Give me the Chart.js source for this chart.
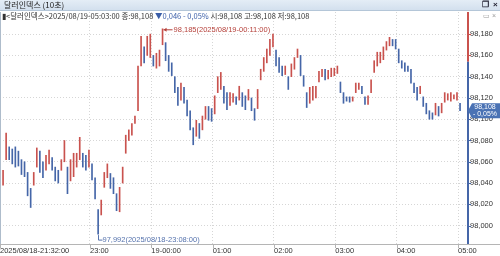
<!DOCTYPE html>
<html>
<head>
<meta charset="utf-8">
<script src="https://cdn.jsdelivr.net/npm/chart.js@4.4.1/dist/chart.umd.min.js"></script>
<style>
  html, body { margin: 0; padding: 0; background: #fff; }
  #wrap { position: relative; width: 500px; height: 256px; overflow: hidden; }
  #titlebar {
    position: absolute; left: 0; top: 0; width: 500px; height: 10px;
    background: linear-gradient(#e4edf6, #d3e0ee); border-bottom: 1px solid #b4c6d8;
    font: 8px "Noto Sans CJK KR", sans-serif; line-height: 10px; color: #222; z-index: 2;
  }
  #titlebar .t { position: absolute; left: 4px; top: 0; }
  #titlebar .ic { position: absolute; top: 0; font: bold 8px "Liberation Sans", sans-serif; color: #223; }
  #info {
    position: absolute; left: 2px; top: 11px; height: 9px; white-space: nowrap;
    font: 7.5px "Liberation Sans Narrow", "Noto Sans CJK KR", sans-serif; line-height: 9px; color: #333; z-index: 2;
  }
  #info .dn { color: #3b5ea8; }
  #mini { position: absolute; right: 4px; top: 12px; font: 7px "Liberation Sans", sans-serif; color: #999; z-index: 2; }
  canvas { position: absolute; left: 0; top: 0; }
</style>
</head>
<body>
<div id="wrap">
  <div id="titlebar"><span class="t">달러인덱스 (10초)</span><span class="ic" style="left:482px">❐</span><span class="ic" style="left:493px">×</span></div>
  <div id="info">▮&lt;달러인덱스&gt;2025/08/19-05:03:00 종:98,108 <span class="dn">▼0,046</span> <span class="dn">- 0,05%</span> 시:98,108 고:98,108 저:98,108</div>
  <div id="mini">▭ ×</div>
  <canvas id="chart" width="500" height="256"></canvas>
</div>
<script>
// 3분 단위 구간 (21:32부터)
const barMinutes = 3;
const lows = [
  98.028, 98.038, 98.062, 98.062, 98.058, 98.055, 98.056, 98.048, 98.046, 98.028,
  98.017, 98.038, 98.055, 98.050, 98.045, 98.052, 98.058, 98.052, 98.042, 98.040,
  98.052, 98.060, 98.030, 98.042, 98.046, 98.055, 98.062, 98.055, 98.052, 98.055,
  98.043, 98.025, 97.992, 98.010, 98.036, 98.045, 98.035, 98.030, 98.014, 98.013,
  98.040, 98.068, 98.080, 98.085, 98.096, 98.108, 98.150, 98.153, 98.160, 98.158,
  98.150, 98.148, 98.150, 98.170, 98.155, 98.145, 98.141, 98.125, 98.113, 98.118,
  98.115, 98.103, 98.090, 98.076, 98.084, 98.082, 98.090, 98.100, 98.099, 98.098,
  98.105, 98.125, 98.128, 98.115, 98.109, 98.113, 98.116, 98.114, 98.118, 98.112,
  98.109, 98.118, 98.108, 98.099, 98.110, 98.137, 98.145, 98.153, 98.160, 98.168,
  98.150, 98.144, 98.141, 98.142, 98.128, 98.140, 98.147, 98.158, 98.141, 98.131,
  98.111, 98.115, 98.118, 98.120, 98.135, 98.140, 98.137, 98.138, 98.140, 98.141,
  98.143, 98.125, 98.115, 98.117, 98.116, 98.117, 98.125, 98.128, 98.124, 98.114,
  98.114, 98.125, 98.144, 98.150, 98.153, 98.156, 98.165, 98.169, 98.169, 98.166,
  98.153, 98.148, 98.145, 98.145, 98.134, 98.125, 98.118, 98.124, 98.112, 98.105,
  98.100, 98.100, 98.104, 98.103, 98.106, 98.116, 98.118, 98.117, 98.119, 98.118,
  98.108
];
const highs = [
  98.040, 98.052, 98.087, 98.074, 98.072, 98.074, 98.070, 98.062, 98.060, 98.050,
  98.035, 98.050, 98.073, 98.070, 98.060, 98.066, 98.071, 98.064, 98.055, 98.052,
  98.062, 98.080, 98.055, 98.062, 98.068, 98.068, 98.083, 98.068, 98.066, 98.071,
  98.058, 98.045, 98.015, 98.024, 98.050, 98.058, 98.049, 98.045, 98.030, 98.036,
  98.055, 98.085, 98.090, 98.096, 98.103, 98.150, 98.178, 98.168, 98.178, 98.180,
  98.160, 98.162, 98.165, 98.185, 98.172, 98.160, 98.153, 98.140, 98.130, 98.134,
  98.130, 98.118, 98.108, 98.092, 98.099, 98.096, 98.103, 98.112, 98.112, 98.110,
  98.122, 98.140, 98.144, 98.131, 98.125, 98.125, 98.124, 98.121, 98.131, 98.125,
  98.122, 98.128, 98.120, 98.110, 98.128, 98.147, 98.158, 98.166, 98.175, 98.180,
  98.165, 98.158, 98.150, 98.150, 98.140, 98.152, 98.158, 98.166, 98.160, 98.141,
  98.125, 98.130, 98.131, 98.131, 98.145, 98.147, 98.147, 98.146, 98.148, 98.148,
  98.150, 98.135, 98.125, 98.121, 98.121, 98.121, 98.134, 98.134, 98.131, 98.121,
  98.122, 98.137, 98.155, 98.163, 98.163, 98.168, 98.173, 98.177, 98.175, 98.175,
  98.166, 98.155, 98.153, 98.150, 98.147, 98.134, 98.130, 98.131, 98.121, 98.115,
  98.108, 98.106, 98.115, 98.112, 98.115, 98.125, 98.124, 98.125, 98.123, 98.125,
  98.115
];
const yTicks = [98.000, 98.020, 98.040, 98.060, 98.080, 98.100, 98.120, 98.140, 98.160, 98.180];
const xTickMinutes = [0, 88, 148, 208, 268, 328, 388, 448];
const xTickLabels = ["2025/08/18-21:32:00", "23:00", "19-00:00", "01:00", "02:00", "03:00", "04:00", "05:00"];
const prevClose = 98.154;
const lastPrice = 98.108;
const lastChange = "- 0,05%";
const highMark = { idx: 53, value: 98.185, text: "98,185(2025/08/19-00:11:00)" };
const lowMark = { idx: 32, value: 97.992, text: "97,992(2025/08/18-23:08:00)" };

const RED = "#c9524e";
const BLUE = "#4566a8";
const FONT = '"Liberation Sans Narrow", "Liberation Sans", sans-serif';

const fmt = v => v.toFixed(3).replace(".", ",");

const points = lows.map((lo, i) => ({ x: i * barMinutes, y: [lo, highs[i]] }));
const colors = lows.map((lo, i) => {
  if (i === 0) return BLUE;
  const mid = (lo + highs[i]) / 2, prev = (lows[i - 1] + highs[i - 1]) / 2;
  return mid >= prev ? RED : BLUE;
});

const decor = {
  id: "decor",
  afterDraw(chart) {
    const ctx = chart.ctx, a = chart.chartArea, xs = chart.scales.x, ys = chart.scales.y;
    ctx.save();
    // 왼쪽 테두리, 아래 축선
    ctx.strokeStyle = "#aebccb"; ctx.lineWidth = 1;
    ctx.beginPath(); ctx.moveTo(0.5, a.top); ctx.lineTo(0.5, a.bottom); ctx.stroke();
    ctx.strokeStyle = "#b5b5b5";
    ctx.beginPath(); ctx.moveTo(0, a.bottom + 0.5); ctx.lineTo(500, a.bottom + 0.5); ctx.stroke();
    // x 눈금
    xTickMinutes.forEach(m => {
      const px = Math.round(xs.getPixelForValue(m)) + 0.5;
      ctx.beginPath(); ctx.moveTo(px, a.bottom); ctx.lineTo(px, a.bottom + 4); ctx.stroke();
    });
    // 오른쪽 축: 전일종가 위는 빨강, 아래는 파랑
    const yp = ys.getPixelForValue(prevClose);
    ctx.lineWidth = 2;
    ctx.strokeStyle = RED;
    ctx.beginPath(); ctx.moveTo(a.right + 1, a.top); ctx.lineTo(a.right + 1, yp); ctx.stroke();
    ctx.strokeStyle = BLUE;
    ctx.beginPath(); ctx.moveTo(a.right + 1, yp); ctx.lineTo(a.right + 1, a.bottom); ctx.stroke();
    ctx.lineWidth = 1;
    yTicks.forEach(v => {
      const py = Math.round(ys.getPixelForValue(v)) + 0.5;
      ctx.strokeStyle = v > prevClose ? RED : BLUE;
      ctx.beginPath(); ctx.moveTo(a.right + 2, py); ctx.lineTo(a.right + 4, py); ctx.stroke();
    });
    // 현재가 박스
    const yl = ys.getPixelForValue(lastPrice);
    ctx.fillStyle = "#4a72b4";
    ctx.beginPath();
    ctx.moveTo(a.right + 1, yl);
    ctx.lineTo(a.right + 5, yl - 7.5);
    ctx.lineTo(500, yl - 7.5);
    ctx.lineTo(500, yl + 7.5);
    ctx.lineTo(a.right + 5, yl + 7.5);
    ctx.closePath(); ctx.fill();
    ctx.fillStyle = "#fff"; ctx.font = "7px " + FONT; ctx.textAlign = "center"; ctx.textBaseline = "middle";
    ctx.fillText(fmt(lastPrice), 485, yl - 3.3);
    ctx.fillText(lastChange, 485, yl + 3.5);
    // 최고가 표시
    ctx.font = "7.5px " + FONT; ctx.textAlign = "left";
    const hx = xs.getPixelForValue(highMark.idx * barMinutes), hy = ys.getPixelForValue(highMark.value);
    ctx.strokeStyle = "#b5403a"; ctx.fillStyle = "#b5403a";
    ctx.beginPath(); ctx.moveTo(hx + 1, hy + 1); ctx.lineTo(hx + 10, hy + 1); ctx.stroke();
    ctx.beginPath(); ctx.moveTo(hx + 1, hy + 1); ctx.lineTo(hx + 4, hy - 1); ctx.lineTo(hx + 4, hy + 3); ctx.closePath(); ctx.fill();
    ctx.fillText(highMark.text, hx + 11, hy + 1.5);
    // 최저가 표시
    const lx = Math.round(xs.getPixelForValue(lowMark.idx * barMinutes)) + 0.5, ly = ys.getPixelForValue(lowMark.value);
    ctx.strokeStyle = "#5673ad"; ctx.fillStyle = "#5673ad";
    ctx.beginPath(); ctx.moveTo(lx, ly + 1); ctx.lineTo(lx, ly + 6); ctx.lineTo(lx + 4, ly + 6); ctx.stroke();
    ctx.fillText(lowMark.text, lx + 4, ly + 6);
    ctx.restore();
  }
};

new Chart(document.getElementById("chart"), {
  type: "bar",
  data: {
    datasets: [{
      data: points,
      backgroundColor: colors,
      borderWidth: 0,
      barThickness: 1,
      grouped: false
    }]
  },
  options: {
    responsive: false,
    animation: false,
    layout: { padding: { top: 12, left: 0, right: 0, bottom: 0 } },
    plugins: { legend: { display: false }, tooltip: { enabled: false } },
    scales: {
      x: {
        type: "linear",
        offset: false,
        min: 0,
        max: 456.8,
        afterBuildTicks: s => { s.ticks = xTickMinutes.map(v => ({ value: v })); },
        afterFit: s => { s.height = 12; s.paddingLeft = 0; s.paddingRight = 0; },
        grid: { color: "#d6d6d6", drawTicks: false, lineWidth: 1, offset: false },
        border: { display: false, dash: [1, 2] },
        ticks: {
          autoSkip: false, maxRotation: 0, align: "start", padding: 2,
          color: "#333", font: { family: FONT, size: 7.5 },
          callback: (v) => xTickLabels[xTickMinutes.indexOf(v)]
        }
      },
      y: {
        position: "right",
        min: 97.9827,
        max: 98.2008,
        afterBuildTicks: s => { s.ticks = yTicks.map(v => ({ value: v })); },
        afterFit: s => { s.width = 33; s.paddingTop = 0; s.paddingBottom = 0; },
        grid: { color: "#d6d6d6", drawTicks: false, lineWidth: 1 },
        border: { display: false, dash: [1, 2] },
        ticks: {
          padding: 3, color: "#333", font: { family: FONT, size: 7.5 },
          callback: v => fmt(v)
        }
      }
    }
  },
  plugins: [decor]
});
</script>
</body>
</html>
